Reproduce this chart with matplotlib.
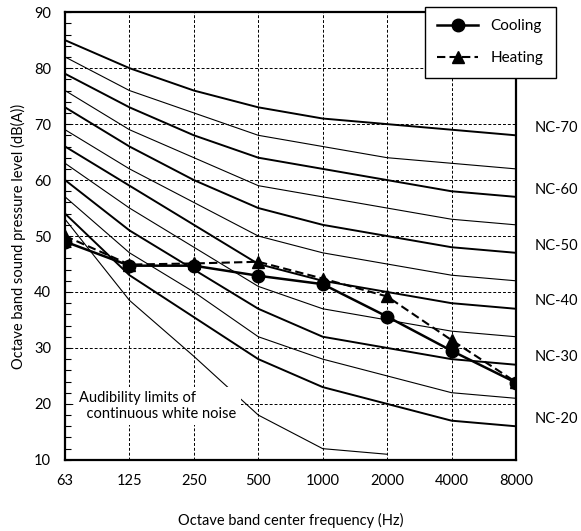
import matplotlib
matplotlib.use("Agg")
import matplotlib.pyplot as plt
from matplotlib.ticker import MultipleLocator

plt.rcParams['font.family'] = ['Lato', 'DejaVu Sans']

# --- data ---
freqs = ["63", "125", "250", "500", "1000", "2000", "4000", "8000"]

nc_names = ["NC-70", "NC-65", "NC-60", "NC-55", "NC-50", "NC-45",
            "NC-40", "NC-35", "NC-30", "NC-25", "NC-20"]
nc_values = [
    [85, 80, 76, 73, 71, 70, 69, 68],
    [82, 76, 72, 68, 66, 64, 63, 62],
    [79, 73, 68, 64, 62, 60, 58, 57],
    [76, 69, 64, 59, 57, 55, 53, 52],
    [73, 66, 60, 55, 52, 50, 48, 47],
    [69, 62, 56, 50, 47, 45, 43, 42],
    [66, 59, 52, 45, 42, 40, 38, 37],
    [63, 55, 48, 41, 37, 35, 33, 32],
    [60, 51, 44, 37, 32, 30, 28, 27],
    [57, 47, 40, 32, 28, 25, 22, 21],
    [54, 43, 35.5, 28, 23, 20, 17, 16],
]
audibility = [53, 38.5, 28.5, 18, 12, 11]   # 63 .. 2000 Hz

cooling = [49, 44.7, 44.7, 42.9, 41.4, 35.6, 29.5, 23.8]
heating = [50, 44.9, 45.1, 45.4, 42.4, 39.2, 31.4, 23.9]

# --- figure ---
fig = plt.figure(figsize=(5.81, 5.31), dpi=100)
ax = fig.add_axes([0.112, 0.134, 0.776, 0.843])

x = list(range(len(freqs)))

for name, vals in zip(nc_names, nc_values):
    thick = int(name[3:]) % 10 == 0
    ax.plot(x, vals, color="black", linewidth=1.4 if thick else 0.8, zorder=2)
    if thick:
        ax.text(1.089, vals[-1] + 1.3, name, transform=ax.get_yaxis_transform(),
                ha="center", va="center", fontsize=10.5)

ax.plot(x[:len(audibility)], audibility, color="black", linewidth=0.8, zorder=2)

ax.plot(x, cooling, color="black", linewidth=1.8, marker="o", markersize=9,
        label="Cooling", zorder=4)
ax.plot(x, heating, color="black", linewidth=1.5, linestyle=(0, (4, 2)),
        marker="^", markersize=8, label="Heating", zorder=4)

ax.text(0.22, 19.6, "Audibility limits of\n  continuous white noise",
        ha="left", va="center", fontsize=10.5, linespacing=1.15,
        bbox=dict(facecolor="white", edgecolor="none", pad=3), zorder=3)

ax.set_xlim(0, 7)
ax.set_ylim(10, 90)
ax.set_xticks(x)
ax.set_xticklabels(freqs)
ax.yaxis.set_major_locator(MultipleLocator(10))
ax.yaxis.set_minor_locator(MultipleLocator(2))
ax.tick_params(axis="x", length=0, pad=10, labelsize=10.5)
ax.tick_params(axis="y", which="both", direction="in", length=4, width=0.8,
               pad=10, labelsize=10.5)

ax.grid(True, which="major", color="black", linestyle=(0, (3, 2)), linewidth=0.7)
ax.set_axisbelow(True)
for s in ax.spines.values():
    s.set_linewidth(1.6)

ax.set_xlabel("Octave band center frequency (Hz)", fontsize=10.5, labelpad=18)
ax.set_ylabel("Octave band sound pressure level (dB(A))", fontsize=10.5, labelpad=6)

leg = fig.legend(loc="upper left", bbox_to_anchor=(0.731, 0.987), fontsize=11,
                 frameon=True, fancybox=False, edgecolor="black", framealpha=1,
                 handlelength=2.7, handletextpad=0.8, labelspacing=1.2,
                 borderpad=0.8, borderaxespad=0)
leg.get_frame().set_linewidth(1.0)

plt.savefig("out.png", dpi=100)
plt.close()
